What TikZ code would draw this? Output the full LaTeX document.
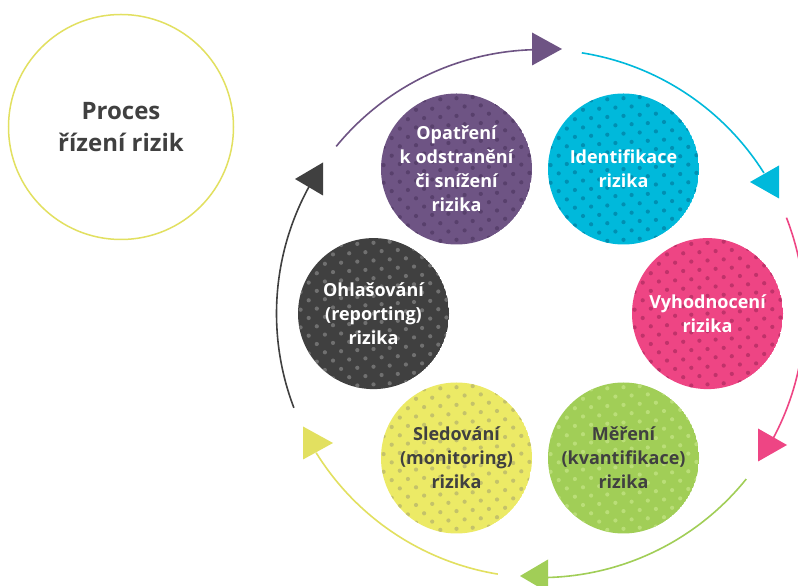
\documentclass[tikz,border=0pt]{standalone}
\usepackage{fontspec}
\setmainfont{Open Sans}
\definecolor{cpurple}{RGB}{110,84,132}
\definecolor{dpurple}{RGB}{88,64,108}
\definecolor{ccyan}{RGB}{0,185,219}
\definecolor{dcyan}{RGB}{0,143,178}
\definecolor{cpink}{RGB}{238,69,132}
\definecolor{dpink}{RGB}{192,50,106}
\definecolor{cgreen}{RGB}{161,206,87}
\definecolor{dgreen}{RGB}{186,222,120}
\definecolor{cyellow}{RGB}{236,234,102}
\definecolor{dyellow}{RGB}{196,194,106}
\definecolor{ayellow}{RGB}{226,224,96}
\definecolor{cdark}{RGB}{64,64,64}
\definecolor{ddark}{RGB}{112,112,112}
\definecolor{textgrey}{RGB}{64,64,64}
\newcommand\riskcircle[6]{%
  \begin{scope}[shift={#2}]
    \clip (0,0) circle (75.5);
    \fill[#3] (0,0) circle (75.5);
    \foreach \j in {-10,...,10}{\foreach \i in {-11,...,11}{%
      \fill[#4] (\i*16.2+\j*8.1, \i*1.1-\j*8.3) circle (2.1);}}
  \end{scope}
  \node[stepcirc, text=#5] (#1) at #2 {#6};
}
\begin{document}
\begin{tikzpicture}[x=1pt,y=1pt,
  stepcirc/.style={circle, minimum size=151pt, inner sep=0pt, align=center,
    font=\bfseries\fontsize{18}{24}\selectfont},
  ringarc/.style={line width=1.6pt}]
\useasboundingbox (0,0) rectangle (798,586);
\clip (0,0) rectangle (798,586);
\fill[white] (0,0) rectangle (798,586);

\node[circle, draw=ayellow, line width=1.5pt, minimum size=225pt, inner sep=0pt,
  text=textgrey, align=center, font=\bfseries\fontsize{24}{32}\selectfont]
  (title) at (121,459) {Proces\\řízení rizik};

\coordinate (ctr) at (540.5,272.4);

\riskcircle{opatreni}{(456.5,417)}{cpurple}{dpurple}{white}{Opatření\\k odstranění\\či snížení\\rizika}
\riskcircle{ident}{(623.5,417)}{ccyan}{dcyan}{white}{Identifikace\\rizika}
\riskcircle{vyhod}{(707.5,272.4)}{cpink}{dpink}{white}{Vyhodnocení\\rizika}
\riskcircle{mereni}{(623.5,128)}{cgreen}{dgreen}{textgrey}{Měření\\(kvantifikace)\\rizika}
\riskcircle{sledovani}{(456.5,128)}{cyellow}{dyellow}{textgrey}{Sledování\\(monitoring)\\rizika}
\riskcircle{ohlas}{(373.5,272.4)}{cdark}{ddark}{white}{Ohlašování\\(reporting)\\rizika}

% ring arcs
\draw[ringarc, cpurple] ([shift={(140.7:264)}]ctr) arc[start angle=140.7, end angle=91.8, radius=264];
\draw[ringarc, ccyan] ([shift={(81:264)}]ctr) arc[start angle=81, end angle=32.2, radius=264];
\draw[ringarc, cpink] ([shift={(21.3:264)}]ctr) arc[start angle=21.3, end angle=-28.3, radius=264];
\draw[ringarc, cgreen] ([shift={(-38.8:264)}]ctr) arc[start angle=-38.8, end angle=-88.4, radius=264];
\draw[ringarc, ayellow] ([shift={(-99.3:264)}]ctr) arc[start angle=-99.3, end angle=-148.2, radius=264];
\draw[ringarc, cdark] ([shift={(-159.1:264)}]ctr) arc[start angle=-159.1, end angle=-208.8, radius=264];

% arrow heads
\fill[cpurple] (562,537) -- (532,553.5) -- (532,520.5) -- cycle;
\fill[ccyan] (750,404) -- (779,420.5) -- (779,387.5) -- cycle;
\fill[cpink] (787,141) -- (758,157.5) -- (758,124.5) -- cycle;
\fill[cgreen] (520,10) -- (548,26.5) -- (548,-6.5) -- cycle;
\fill[ayellow] (333,143) -- (303,159.5) -- (303,126.5) -- cycle;
\fill[cdark] (295,407) -- (323,423.5) -- (323,390.5) -- cycle;
\end{tikzpicture}
\end{document}
